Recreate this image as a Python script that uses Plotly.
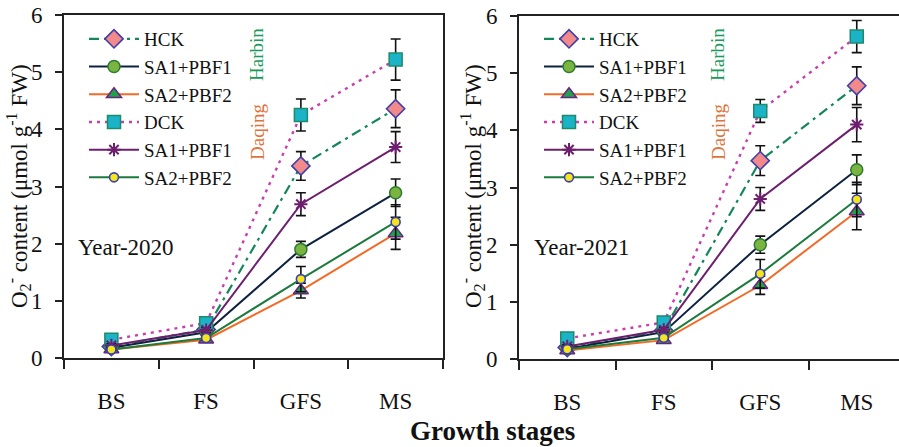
import plotly.graph_objects as go

# Growth stages on the x axis
stages = ["BS", "FS", "GFS", "MS"]

# Treatment names (Harbin: HCK, SA1+PBF1, SA2+PBF2; Daqing: DCK, SA1+PBF1, SA2+PBF2)
series_names = ["HCK", "SA1+PBF1", "SA2+PBF2", "DCK", "SA1+PBF1", "SA2+PBF2"]

# O2- content, year 2020 (µmol g-1 FW)
hck_2020 = [0.20, 0.50, 3.36, 4.36]
sa1h_2020 = [0.18, 0.45, 1.90, 2.89]
sa2h_2020 = [0.15, 0.32, 1.18, 2.18]
dck_2020 = [0.32, 0.61, 4.25, 5.22]
sa1d_2020 = [0.22, 0.49, 2.69, 3.69]
sa2d_2020 = [0.15, 0.35, 1.38, 2.38]

hck_2020_err = [0.03, 0.04, 0.25, 0.33]
sa1h_2020_err = [0.02, 0.03, 0.14, 0.24]
sa2h_2020_err = [0.02, 0.03, 0.13, 0.28]
dck_2020_err = [0.04, 0.05, 0.28, 0.36]
sa1d_2020_err = [0.03, 0.04, 0.20, 0.27]
sa2d_2020_err = [0.02, 0.03, 0.22, 0.30]

# O2- content, year 2021 (µmol g-1 FW)
hck_2021 = [0.20, 0.50, 3.47, 4.78]
sa1h_2021 = [0.18, 0.47, 2.00, 3.31]
sa2h_2021 = [0.15, 0.33, 1.29, 2.58]
dck_2021 = [0.36, 0.64, 4.34, 5.64]
sa1d_2021 = [0.22, 0.51, 2.80, 4.10]
sa2d_2021 = [0.17, 0.37, 1.49, 2.79]

hck_2021_err = [0.03, 0.04, 0.26, 0.33]
sa1h_2021_err = [0.02, 0.03, 0.15, 0.26]
sa2h_2021_err = [0.02, 0.03, 0.16, 0.32]
dck_2021_err = [0.04, 0.05, 0.20, 0.28]
sa1d_2021_err = [0.03, 0.04, 0.20, 0.30]
sa2d_2021_err = [0.02, 0.03, 0.25, 0.30]

data_2020 = [hck_2020, sa1h_2020, sa2h_2020, dck_2020, sa1d_2020, sa2d_2020]
err_2020 = [hck_2020_err, sa1h_2020_err, sa2h_2020_err, dck_2020_err, sa1d_2020_err, sa2d_2020_err]
data_2021 = [hck_2021, sa1h_2021, sa2h_2021, dck_2021, sa1d_2021, sa2d_2021]
err_2021 = [hck_2021_err, sa1h_2021_err, sa2h_2021_err, dck_2021_err, sa1d_2021_err, sa2d_2021_err]

SERIF = "Liberation Serif, Times New Roman, serif"

# Line and marker styles per treatment
styles = [
    dict(line=dict(color="#13875A", width=2.2, dash="10px,5px,3px,5px"),
         marker=dict(symbol="diamond", size=14, color="#F28A8C", line=dict(color="#3F3FA8", width=1.6))),
    dict(line=dict(color="#0E2240", width=2),
         marker=dict(symbol="circle", size=12, color="#79B540", line=dict(color="#2E7A30", width=1.5))),
    dict(line=dict(color="#F26A25", width=2),
         marker=dict(symbol="triangle-up", size=13, color="#1FA34A", line=dict(color="#6B2380", width=1.5))),
    dict(line=dict(color="#C93DAE", width=2.4, dash="3px,5px"),
         marker=dict(symbol="square", size=13, color="#1AB3C8", line=dict(color="#1E8A6A", width=1.5))),
    dict(line=dict(color="#6E1E6E", width=2),
         marker=dict(symbol="asterisk-open", size=11, color="#6E1E6E", line=dict(color="#6E1E6E", width=2))),
    dict(line=dict(color="#1B7A3C", width=2),
         marker=dict(symbol="circle", size=9, color="#F5E61A", line=dict(color="#3A3FB5", width=1.6))),
]

fig = go.Figure()


def add_panel(values, errors, xa, ya, legend_id):
    for name, y, e, st in zip(series_names, values, errors, styles):
        fig.add_trace(go.Scatter(
            x=stages, y=y, name=name, mode="lines+markers",
            line=st["line"], marker=st["marker"],
            error_y=dict(type="data", array=e, visible=True, color="#111111",
                         thickness=1.6, width=5),
            xaxis=xa, yaxis=ya, legend=legend_id,
        ))


add_panel(data_2020, err_2020, "x", "y", "legend")
add_panel(data_2021, err_2021, "x2", "y2", "legend2")

W, H = 899, 447
axis_common = dict(showline=True, linecolor="#222222", linewidth=1.6,
                   ticks="outside", tickcolor="#222222", tickwidth=1.6,
                   showgrid=False, zeroline=False, automargin=False,
                   tickfont=dict(family=SERIF, size=23, color="#111111"))

legend_common = dict(font=dict(family=SERIF, size=19, color="#111111"),
                     bgcolor="rgba(0,0,0,0)", xanchor="left", yanchor="top",
                     tracegroupgap=0, itemwidth=50)

fig.update_layout(
    width=W, height=H,
    margin=dict(l=0, r=0, t=0, b=0, autoexpand=False),
    paper_bgcolor="white", plot_bgcolor="white",
    showlegend=True,
    xaxis=dict(domain=[64 / W, 443 / W], type="category", range=[-0.5, 3.5],
               tickson="boundaries", ticklen=9, ticklabelstandoff=22,
               mirror=True, anchor="y", **axis_common),
    yaxis=dict(domain=[(H - 358) / H, (H - 15) / H], range=[0, 6], dtick=1,
               ticklen=7, ticklabelstandoff=8, mirror=True, anchor="x", **axis_common),
    xaxis2=dict(domain=[519 / W, 1.0], type="category", range=[-0.5, -0.5 + 380 / 96.5],
                tickson="boundaries", ticklen=9, ticklabelstandoff=22,
                mirror=True, anchor="y2", **axis_common),
    yaxis2=dict(domain=[(H - 359) / H, (H - 16) / H], range=[0, 6], dtick=1,
                ticklen=7, ticklabelstandoff=8, mirror=False, anchor="x2", **axis_common),
    legend=dict(x=84 / W, y=1 - 20 / H, **legend_common),
    legend2=dict(x=539 / W, y=1 - 20 / H, **legend_common),
)


def note(text, xp, yp, size, color, angle=0):
    fig.add_annotation(text=text, x=xp / W, y=(H - yp) / H, xref="paper", yref="paper",
                       xanchor="center", yanchor="middle", textangle=angle,
                       showarrow=False, font=dict(family=SERIF, size=size, color=color))


ytitle = "O<sub>2</sub><sup>-</sup> content (μmol g<sup>-1</sup> FW)"
for xp in (19, 473):
    note(ytitle, xp, 186, 23, "#111111", angle=-90)

note("Year-2020", 126, 248, 23, "#111111")
note("Year-2021", 582, 248, 23, "#111111")

for xp in (257, 718):
    note("Harbin", xp, 55, 19, "#1A9A5A", angle=-90)
    note("Daqing", xp, 132, 19, "#E0733A", angle=-90)

note("<b>Growth stages</b>", 492, 431, 27, "#111111")

fig.write_html("out.html")
